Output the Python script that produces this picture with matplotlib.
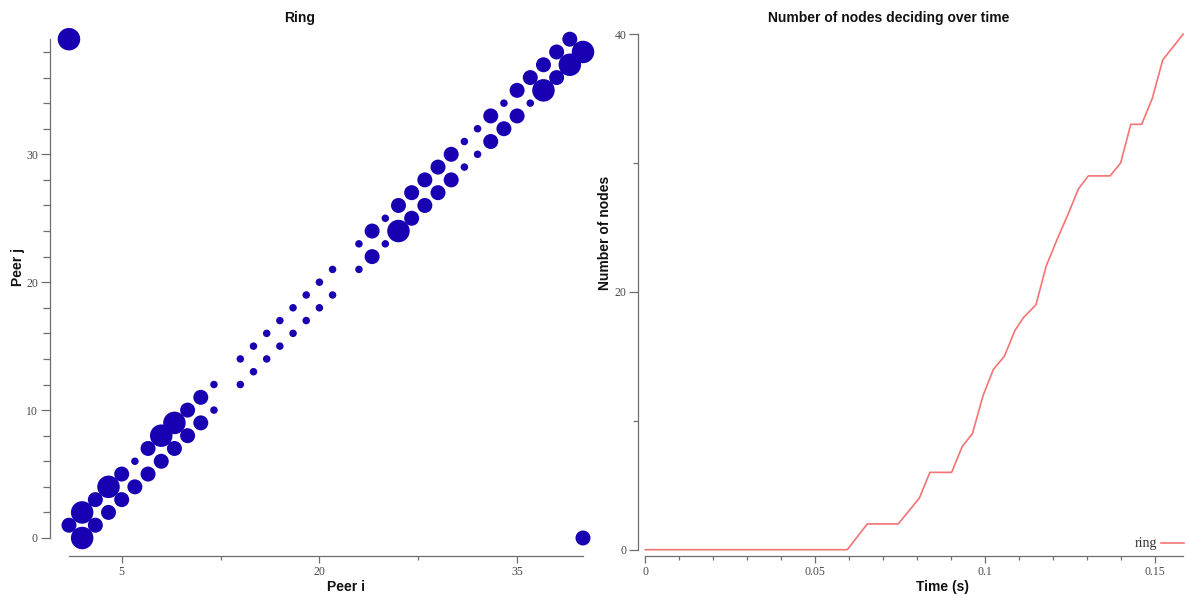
import matplotlib
matplotlib.use("Agg")
import matplotlib.pyplot as plt
from matplotlib.ticker import FixedLocator, MultipleLocator
import numpy as np

# ---- ring communication matrix: sender i, receiver j, number of messages ----
peer_i = [1, 1, 2, 2, 3, 3, 4, 4, 5, 5, 6, 6, 7, 7, 8, 8, 9, 9, 10, 10,
          11, 11, 12, 12, 14, 14, 15, 15, 16, 16, 17, 17, 18, 18, 19, 19,
          20, 20, 21, 21, 23, 23, 24, 24, 25, 25, 26, 26, 27, 27, 28, 28,
          29, 29, 30, 30, 31, 31, 32, 32, 33, 33, 34, 34, 35, 35, 36, 36,
          37, 37, 38, 38, 39, 39, 40, 40]
peer_j = [1, 39, 0, 2, 1, 3, 2, 4, 3, 5, 4, 6, 5, 7, 6, 8, 7, 9, 8, 10,
          9, 11, 10, 12, 12, 14, 13, 15, 14, 16, 15, 17, 16, 18, 17, 19,
          18, 20, 19, 21, 21, 23, 22, 24, 23, 25, 24, 26, 25, 27, 26, 28,
          27, 29, 28, 30, 29, 31, 30, 32, 31, 33, 32, 34, 33, 35, 34, 36,
          35, 37, 36, 38, 37, 39, 38, 0]
messages = [2, 3, 3, 3, 2, 2, 2, 3, 2, 2, 2, 1, 2, 2, 2, 3, 2, 3, 2, 2,
            2, 2, 1, 1, 1, 1, 1, 1, 1, 1, 1, 1, 1, 1, 1, 1,
            1, 1, 1, 1, 1, 1, 2, 2, 1, 1, 3, 2, 2, 2, 2, 2,
            2, 2, 2, 2, 1, 1, 1, 1, 2, 2, 2, 1, 2, 2, 1, 2,
            3, 2, 2, 2, 3, 2, 3, 2]

# ---- nodes that have decided, over time ----
time_s = [0, 0.0594, 0.0653, 0.0744, 0.0806, 0.0837, 0.0901, 0.0932, 0.0962,
          0.0994, 0.1024, 0.1056, 0.1087, 0.1112, 0.1149, 0.1179, 0.1210,
          0.1243, 0.1274, 0.1303, 0.1367, 0.1398, 0.1428, 0.1460, 0.1491,
          0.1522, 0.1582]
n_decided = [0, 0, 2, 2, 4, 6, 6, 8, 9, 12, 14, 15, 17, 18, 19, 22, 24, 26,
             28, 29, 29, 30, 33, 33, 35, 38, 40]

W, H = 1189, 596
DPI = 100
fig = plt.figure(figsize=(W / DPI, H / DPI), dpi=DPI)

DOT = "#1800b2"
LINE = "#f47474"
SPINE = "#6e6e6e"
TICKTXT = "#4a4a4a"
SERIF = "Liberation Serif"
SANS = "Liberation Sans"


def px_axes(left, top, right, bottom):
    return fig.add_axes([left / W, 1 - bottom / H, (right - left) / W, (bottom - top) / H])


def style(ax, xb, yb):
    for s in ("top", "right"):
        ax.spines[s].set_visible(False)
    for s in ("left", "bottom"):
        ax.spines[s].set_color(SPINE)
        ax.spines[s].set_linewidth(0.9)
    ax.spines["bottom"].set_bounds(*xb)
    ax.spines["left"].set_bounds(*yb)
    ax.tick_params(which="both", direction="out", color=SPINE, width=0.9,
                   labelcolor=TICKTXT, labelsize=8.5)
    ax.tick_params(axis="x", which="major", length=5, pad=2.5)
    ax.tick_params(axis="x", which="minor", length=2.8)
    ax.tick_params(axis="y", which="major", length=6.2, pad=2.5)
    for lab in ax.get_xticklabels() + ax.get_yticklabels():
        lab.set_family(SERIF)
    ax.patch.set_alpha(0)


# ---------------- left panel: Ring ----------------
ax1 = px_axes(50, 25, 600, 556)
sizes = [(1.44 * 3.75 * m) ** 2 for m in messages]
ax1.scatter(peer_i, peer_j, s=sizes, color=DOT, linewidths=0, zorder=3)
ax1.set_xlim((50 - 55.8) / 13.18, (600 - 55.8) / 13.18)
ax1.set_ylim((538 - 556) / 12.79, (538 - 25) / 12.79)
ax1.xaxis.set_major_locator(FixedLocator([5, 20, 35]))
ax1.xaxis.set_minor_locator(FixedLocator([12.5, 27.5]))
ax1.yaxis.set_major_locator(FixedLocator([0, 10, 20, 30]))
ax1.yaxis.set_minor_locator(FixedLocator([v for v in range(0, 40, 2) if v % 10]))
style(ax1, (1, 40), (0, 39))
ax1.tick_params(axis="y", which="minor", length=5)

# ---------------- right panel: decisions over time ----------------
ax2 = px_axes(638.3, 25, 1189, 556)
ax2.plot(time_s, n_decided, color=LINE, lw=1.2, label="ring", zorder=3)
ax2.set_xlim((638.3 - 645.3) / 3400, (1189 - 645.3) / 3400)
ax2.set_ylim((549.7 - 556) / 12.89, (549.7 - 25) / 12.89)
ax2.xaxis.set_major_locator(FixedLocator([0, 0.05, 0.1, 0.15]))
ax2.xaxis.set_minor_locator(FixedLocator([k / 100 for k in range(1, 16) if k % 5]))
ax2.yaxis.set_major_locator(FixedLocator([0, 20, 40]))
ax2.yaxis.set_minor_locator(FixedLocator([10, 30]))
ax2.set_xticklabels(["0", "0.05", "0.1", "0.15"])
ax2.set_yticklabels(["0", "20", "40"])
style(ax2, (0, max(time_s)), (0, 40))
ax2.tick_params(axis="y", which="minor", length=3.6)

leg = ax2.legend(loc="center right", bbox_to_anchor=(1183.5 / W, 1 - 544 / H),
                 bbox_transform=fig.transFigure, frameon=False, markerfirst=False,
                 handlelength=1.6, handletextpad=0.3, borderpad=0, borderaxespad=0,
                 prop={"family": SERIF, "size": 10})
for t in leg.get_texts():
    t.set_color("#333333")

# ---------------- titles and axis labels ----------------
bold = dict(family=SANS, weight="bold", color="#111111")
fig.text(300 / W, 1 - 18 / H, "Ring", ha="center", va="center", size=10, **bold)
fig.text(889 / W, 1 - 18 / H, "Number of nodes deciding over time",
         ha="center", va="center", size=10, **bold)
fig.text(346 / W, 1 - 587 / H, "Peer i", ha="center", va="center", size=10, **bold)
fig.text(18 / W, 1 - 267 / H, "Peer j", ha="center", va="center", size=10,
         rotation=90, **bold)
fig.text(942 / W, 1 - 587 / H, "Time (s)", ha="center", va="center", size=10, **bold)
fig.text(605 / W, 1 - 233 / H, "Number of nodes", ha="center", va="center", size=10,
         rotation=90, **bold)

fig.savefig("out.png", dpi=DPI)
